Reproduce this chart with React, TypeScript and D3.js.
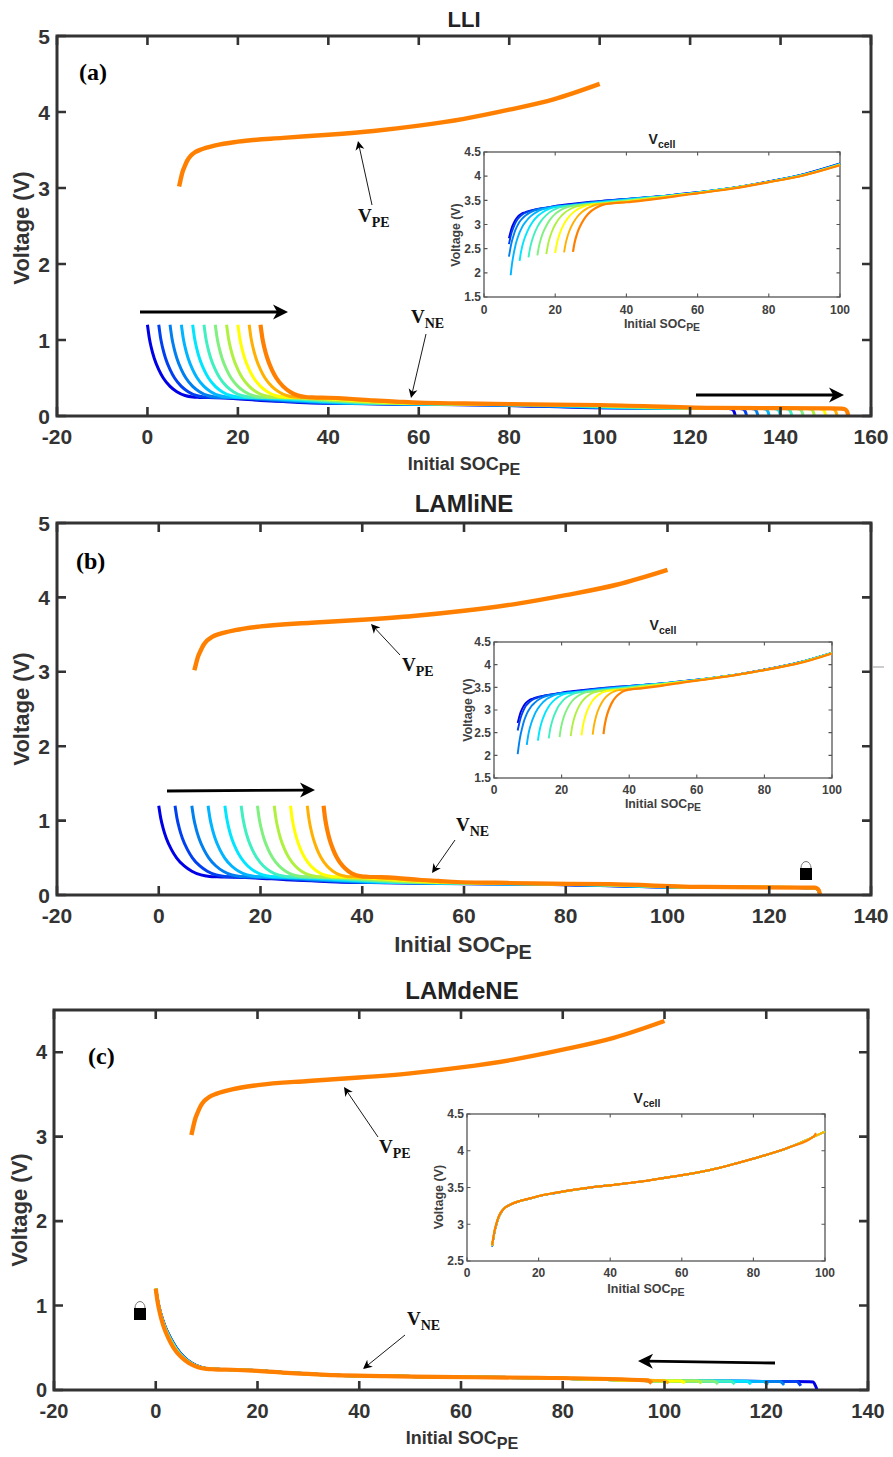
import React from 'react';
import * as d3 from 'd3';

// ---- values ----
const vpeSoc = [7, 7.3, 7.7, 8.2, 8.8, 9.5, 10.5, 12, 15, 20, 30, 40, 50, 60, 70, 80, 90, 100];
const vpeVolt = [3.02, 3.1, 3.2, 3.28, 3.36, 3.42, 3.47, 3.51, 3.56, 3.61, 3.66, 3.7, 3.75, 3.82, 3.91, 4.03, 4.17, 4.37];

const neSoc = [0, 0.4, 0.85, 1.5, 2.5, 3.5, 5, 6.5, 8.3, 10, 11.5, 15, 19, 25, 30, 35, 45, 55, 75, 100, 125, 128.5, 129.2, 129.7, 130];
const neVolt = [1.2, 1.03, 0.9, 0.76, 0.61, 0.5, 0.39, 0.32, 0.27, 0.25, 0.245, 0.24, 0.23, 0.205, 0.19, 0.175, 0.165, 0.155, 0.145, 0.108, 0.1, 0.098, 0.09, 0.06, 0];

const jetColors = ['#0000e6', '#0040f0', '#0080f0', '#00b4ff', '#00e6ff', '#40f0c0', '#80f080', '#b0f040', '#ffff00', '#ffb000', '#ff8000'];

const lliStarts = [0, 2.5, 5, 7.5, 10, 12.5, 15, 17.5, 20, 22.5, 25];
const lamLiStarts = [0, 3.2, 6.5, 9.7, 13, 16.2, 19.4, 22.7, 25.9, 29.2, 32.4];
const lamDeEnds = [130, 126.8, 123.5, 120.3, 117, 113.8, 110.5, 107.3, 104, 100.8, 97.5];
const lamDeNudge = [0.55, 0.5, 0.45, 0.4, 0.35, 0.3, 0.25, 0.2, 0.15, 0.1, 0];
const lamDeTail = [0, 0.05, 0.06, 0.06, 0.07, 0.07, 0.07, 0.08, 0.08, 0.08, 0.08];

const xTicksA = [-20, 0, 20, 40, 60, 80, 100, 120, 140, 160];
const xTicksBC = [-20, 0, 20, 40, 60, 80, 100, 120, 140];
const yTicksAB = [0, 1, 2, 3, 4, 5];
const yTicksC = [0, 1, 2, 3, 4];
const insetXTicks = [0, 20, 40, 60, 80, 100];
const insetYTicksAB = [1.5, 2, 2.5, 3, 3.5, 4, 4.5];
const insetYTicksC = [2.5, 3, 3.5, 4, 4.5];

// ---- curve families ----
type Pt = [number, number];
const vpeAt = d3.scaleLinear().domain(vpeSoc).range(vpeVolt).clamp(true);
const neAt = d3.scaleLinear().domain(neSoc).range(neVolt).clamp(true);
const nePts: Pt[] = neSoc.map((s, i) => [s, neVolt[i]]);
const vpePts: Pt[] = vpeSoc.map((s, i) => [s, vpeVolt[i]]);

const famA = lliStarts.map(s => nePts.map(([u, v]): Pt => [u + s, v]));
const famB = lamLiStarts.map(s => nePts.map(([u, v]): Pt => [s + (u * (130 - s)) / 130, v]));
const famC = lamDeEnds.map((e, i) => {
  const body = nePts.filter(([u]) => u < e - 1.2).map(([u, v]): Pt => [u + lamDeNudge[i] * Math.min(1, u / 3) * (u < 40 ? 1 : 0), v]);
  return [...body, [e - 0.8, neAt(e - 1.2)], [e - 0.3, (neAt(e - 1.2) + lamDeTail[i]) / 2], [e, lamDeTail[i]]] as Pt[];
});

function cellCurve(ne: Pt[]): Pt[] {
  const at = d3.scaleLinear().domain(ne.map(p => p[0])).range(ne.map(p => p[1])).clamp(true);
  const first = Math.max(7, ne[0][0]);
  const last = Math.min(100, ne[ne.length - 1][0]);
  const xs = Array.from(new Set([...ne.map(p => p[0]), ...vpeSoc, first, last]))
    .filter(x => x >= first && x <= last)
    .sort((a, b) => a - b);
  return xs.map((x): Pt => [x, vpeAt(x) - at(x)]);
}

const INK = '#333333';
const SANS = '"Liberation Sans", Arial, sans-serif';
const SERIF = '"Liberation Serif", "Times New Roman", serif';

function Sub({ x, y, main, sub, size, subSize, dy, family, fill, anchor = 'middle' }: any) {
  return (
    <text x={x} y={y} fontFamily={family} fontWeight="bold" fontSize={size} fill={fill} textAnchor={anchor}>
      {main}
      <tspan fontSize={subSize} dy={dy}>{sub}</tspan>
    </text>
  );
}

function Inset({ c, family }: any) {
  const x = d3.scaleLinear().domain([0, 100]).range([c.left, c.right]);
  const y = d3.scaleLinear().domain(c.yDomain).range([c.bottom, c.top]);
  const line = d3.line<Pt>().x(d => x(d[0])).y(d => y(d[1])).curve(d3.curveMonotoneX);
  const gray = '#555555';
  const fs = c.font;
  return (
    <g>
      <rect x={c.left} y={c.top} width={c.right - c.left} height={c.bottom - c.top} fill="#fff" stroke={gray} strokeWidth={1.3} />
      {family.map((ne: Pt[], i: number) => (
        <path key={i} d={line(cellCurve(ne)) || ''} fill="none" stroke={jetColors[i]} strokeWidth={i === 10 ? 2.2 : 1.9} />
      ))}
      {insetXTicks.map(t => (
        <g key={t}>
          <path d={`M${x(t)},${c.bottom}v-3.5M${x(t)},${c.top}v3.5`} stroke={gray} strokeWidth={1.1} />
          <text x={x(t)} y={c.tickBase} textAnchor="middle" fontFamily={SANS} fontWeight="bold" fontSize={fs} fill="#404040">{t}</text>
        </g>
      ))}
      {c.yTicks.map((t: number) => (
        <g key={t}>
          <path d={`M${c.left},${y(t)}h3.5M${c.right},${y(t)}h-3.5`} stroke={gray} strokeWidth={1.1} />
          <text x={c.left - 3} y={y(t) + fs * 0.36} textAnchor="end" fontFamily={SANS} fontWeight="bold" fontSize={fs} fill="#404040">{t}</text>
        </g>
      ))}
      <text transform={`translate(${c.ylabX},${c.ylabY}) rotate(-90)`} textAnchor="middle" fontFamily={SANS} fontWeight="bold" fontSize={c.labFont} fill="#404040">Voltage (V)</text>
      <Sub x={c.xlabX} y={c.xlabBase} main="Initial SOC" sub="PE" size={c.labFont} subSize={c.labFont * 0.85} dy={3} family={SANS} fill="#404040" />
      <Sub x={c.titleX} y={c.titleBase} main="V" sub="cell" size={14} subSize={10.5} dy={3.5} family={SANS} fill="#222" />
    </g>
  );
}

function Arrow({ a, w, head }: any) {
  const [x1, y1, x2, y2] = a;
  const ang = Math.atan2(y2 - y1, x2 - x1);
  const p = (dx: number, dy: number) => `${x2 + dx * Math.cos(ang) - dy * Math.sin(ang)},${y2 + dx * Math.sin(ang) + dy * Math.cos(ang)}`;
  const h = head;
  return (
    <g>
      <line x1={x1} y1={y1} x2={x2 - Math.cos(ang) * h * 0.6} y2={y2 - Math.sin(ang) * h * 0.6} stroke="#000" strokeWidth={w} />
      <path d={`M${p(0, 0)}L${p(-h, h * 0.5)}L${p(-h * 0.72, 0)}L${p(-h, -h * 0.5)}Z`} fill="#000" />
    </g>
  );
}

function Lock({ x, y }: any) {
  return (
    <g>
      <path d={`M${x + 1},${y}A5,6.5 0 0 1 ${x + 11},${y}`} fill="none" stroke="#777" strokeWidth={1} />
      <rect x={x} y={y} width={12} height={12} fill="#000" />
    </g>
  );
}

function Panel({ c }: any) {
  const x = d3.scaleLinear().domain(c.xDomain).range([c.left, c.right]);
  const y = d3.scaleLinear().domain(c.yDomain).range([c.bottom, c.top]);
  const line = d3.line<Pt>().x(d => x(d[0])).y(d => y(d[1])).curve(d3.curveMonotoneX);
  return (
    <g>
      {c.family.map((ne: Pt[], i: number) => (
        <path key={i} d={line(ne) || ''} fill="none" stroke={jetColors[i]} strokeWidth={i === 10 ? 4.2 : 3} />
      ))}
      <path d={line(vpePts) || ''} fill="none" stroke="#ff8000" strokeWidth={4.4} />
      <rect x={c.left} y={c.top} width={c.right - c.left} height={c.bottom - c.top} fill="none" stroke={INK} strokeWidth={3} />
      {c.xTicks.map((t: number) => (
        <g key={t}>
          <path d={`M${x(t)},${c.bottom}v-9M${x(t)},${c.top}v9`} stroke={INK} strokeWidth={2.6} />
          <text x={x(t)} y={c.bottom + 28} textAnchor="middle" fontFamily={SANS} fontWeight="bold" fontSize={c.tickFont} fill={INK}>{t}</text>
        </g>
      ))}
      {c.yTicks.map((t: number) => (
        <g key={t}>
          <path d={`M${c.left},${y(t)}h9M${c.right},${y(t)}h-9`} stroke={INK} strokeWidth={2.6} />
          <text x={c.left - 7} y={y(t) + c.tickFont * 0.36} textAnchor="end" fontFamily={SANS} fontWeight="bold" fontSize={c.tickFont} fill={INK}>{t}</text>
        </g>
      ))}
      <text x={c.titleX} y={c.titleBase} textAnchor="middle" fontFamily={SANS} fontWeight="bold" fontSize={c.titleFont} fill="#222">{c.title}</text>
      <text transform={`translate(${c.ylabX},${c.ylabY}) rotate(-90)`} textAnchor="middle" fontFamily={SANS} fontWeight="bold" fontSize={c.ylabFont} fill={INK}>Voltage (V)</text>
      <Sub x={c.xlabX} y={c.xlabBase} main="Initial SOC" sub="PE" size={c.xlabFont} subSize={c.xlabFont * 0.9} dy={c.xlabFont * 0.3} family={SANS} fill={INK} />
      <text x={c.tagX} y={c.tagY} fontFamily={SERIF} fontWeight="bold" fontSize={24} fill="#000">{c.tag}</text>
      <Sub x={c.peX} y={c.peY} main="V" sub="PE" size={19} subSize={14} dy={5} family={SERIF} fill="#111" anchor="start" />
      <Sub x={c.neX} y={c.neY} main="V" sub="NE" size={19} subSize={14} dy={5} family={SERIF} fill="#111" anchor="start" />
      {c.thin.map((a: number[], i: number) => <Arrow key={i} a={a} w={0.9} head={9} />)}
      {c.bold.map((a: number[], i: number) => <Arrow key={i} a={a} w={2.8} head={15} />)}
      <Inset c={c.inset} family={c.family} />
    </g>
  );
}

const panels = [
  {
    title: 'LLI', titleX: 464, titleBase: 27, titleFont: 22, tag: '(a)', tagX: 79, tagY: 80,
    left: 57, right: 871, top: 36, bottom: 416, xDomain: [-20, 160], yDomain: [0, 5],
    xTicks: xTicksA, yTicks: yTicksAB, tickFont: 21, family: famA,
    ylabX: 29, ylabY: 228, ylabFont: 22, xlabX: 464, xlabBase: 470, xlabFont: 18,
    peX: 358, peY: 222, neX: 411, neY: 323,
    thin: [[372, 205, 358, 141], [426, 334, 411, 398]],
    bold: [[140, 312, 288, 312], [696, 395, 844, 395]],
    inset: { left: 484, right: 840, top: 152, bottom: 297, yDomain: [1.5, 4.5], yTicks: insetYTicksAB, font: 12, labFont: 12.3, tickBase: 314, xlabX: 662, xlabBase: 328, ylabX: 460, ylabY: 235, titleX: 662, titleBase: 144 },
  },
  {
    title: 'LAMliNE', titleX: 464, titleBase: 512, titleFont: 24, tag: '(b)', tagX: 76, tagY: 569,
    left: 57, right: 871, top: 523, bottom: 895, xDomain: [-20, 140], yDomain: [0, 5],
    xTicks: xTicksBC, yTicks: yTicksAB, tickFont: 21, family: famB,
    ylabX: 29, ylabY: 709, ylabFont: 22, xlabX: 463, xlabBase: 952, xlabFont: 22,
    peX: 402, peY: 671, neX: 456, neY: 831,
    thin: [[400, 655, 371, 624], [455, 840, 432, 873]],
    bold: [[167, 791, 315, 790]],
    inset: { left: 494, right: 832, top: 642, bottom: 778, yDomain: [1.5, 4.5], yTicks: insetYTicksAB, font: 12, labFont: 12.3, tickBase: 794, xlabX: 663, xlabBase: 808, ylabX: 472, ylabY: 710, titleX: 663, titleBase: 630 },
  },
  {
    title: 'LAMdeNE', titleX: 462, titleBase: 999, titleFont: 24, tag: '(c)', tagX: 88, tagY: 1064,
    left: 54, right: 868, top: 1010, bottom: 1390, xDomain: [-20, 140], yDomain: [0, 4.5],
    xTicks: xTicksBC, yTicks: yTicksC, tickFont: 20, family: famC,
    ylabX: 27, ylabY: 1210, ylabFont: 22, xlabX: 462, xlabBase: 1444, xlabFont: 18,
    peX: 379, peY: 1153, neX: 407, neY: 1325,
    thin: [[378, 1137, 344, 1087], [405, 1335, 363, 1369]],
    bold: [[775, 1363, 638, 1361]],
    inset: { left: 467, right: 825, top: 1114, bottom: 1261, yDomain: [2.5, 4.5], yTicks: insetYTicksC, font: 12, labFont: 12.5, tickBase: 1277, xlabX: 646, xlabBase: 1293, ylabX: 443, ylabY: 1197, titleX: 647, titleBase: 1103 },
  },
];

export default function App() {
  return (
    <svg width={893} height={1457} viewBox="0 0 893 1457" style={{ position: 'absolute', left: 0, top: 0, background: '#fff' }}>
      {panels.map(p => <Panel key={p.title} c={p} />)}
      <Lock x={800} y={868} />
      <Lock x={134} y={1308} />
      <line x1={873} y1={667} x2={884} y2={667} stroke="#999" strokeWidth={1} />
    </svg>
  );
}
